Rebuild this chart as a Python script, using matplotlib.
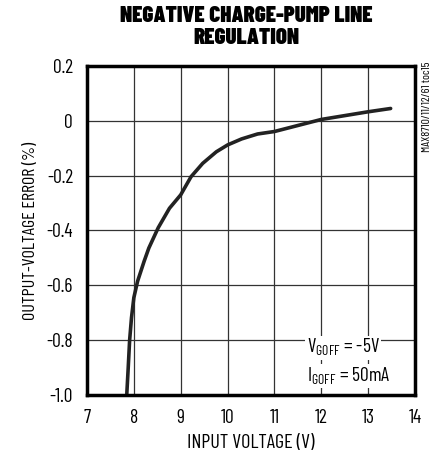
import matplotlib
matplotlib.use('Agg')
import matplotlib.pyplot as plt

# data
vin = [7.85, 7.88, 7.91, 7.95, 8.0, 8.08, 8.22, 8.32, 8.52, 8.76, 9.0, 9.22, 9.47, 9.76, 10.0, 10.3, 10.64, 11.0, 11.5, 12.0, 12.5, 13.0, 13.48]
err = [-0.995, -0.9, -0.8, -0.718, -0.645, -0.585, -0.512, -0.464, -0.39, -0.319, -0.27, -0.204, -0.155, -0.113, -0.088, -0.066, -0.048, -0.039, -0.017, 0.005, 0.019, 0.033, 0.045]

xticks = [7, 8, 9, 10, 11, 12, 13, 14]
yticks = [0.2, 0, -0.2, -0.4, -0.6, -0.8, -1.0]
ylabels = ['0.2', '0', '-0.2', '-0.4', '-0.6', '-0.8', '-1.0']

plt.rcParams['font.family'] = ['Barlow Condensed', 'DejaVu Sans']
plt.rcParams['mathtext.fontset'] = 'custom'
plt.rcParams['mathtext.rm'] = 'Barlow Condensed'

fig = plt.figure(figsize=(4.38, 4.58), dpi=100)
ax = fig.add_axes([0.1986, 0.1376, 0.7489, 0.7183])

ax.plot(vin, err, color='#222222', lw=2.6, solid_capstyle='round', solid_joinstyle='round')

ax.set_xlim(7, 14)
ax.set_ylim(-1.0, 0.2)
ax.set_xticks(xticks)
ax.set_yticks(yticks)
ax.set_yticklabels(ylabels)
ax.grid(True, color='#333333', lw=0.9)
ax.tick_params(length=0, labelsize=14, pad=10)
for s in ax.spines.values():
    s.set_linewidth(2.5)
    s.set_color('black')

ax.set_xlabel('INPUT VOLTAGE (V)', fontsize=14.5, labelpad=5)
ax.set_ylabel('OUTPUT-VOLTAGE ERROR (%)', fontsize=13, labelpad=6)
fig.text(0.563, 0.941, 'NEGATIVE CHARGE-PUMP LINE\nREGULATION', fontsize=16.5, fontweight=900,
         ha='center', va='center', linespacing=1.15)

ax.text(11.69, -0.847, r'V$_{\mathregular{GOFF}}$ = -5V', fontsize=14, ha='left', va='baseline',
        bbox=dict(facecolor='white', edgecolor='none', pad=1))
ax.text(11.69, -0.952, r'I$_{\mathregular{GOFF}}$ = 50mA', fontsize=14, ha='left', va='baseline',
        bbox=dict(facecolor='white', edgecolor='none', pad=1))

fig.text(0.975, 0.866, 'MAX8710/11/12/61 toc15', rotation=90, fontsize=8.5, ha='center', va='top')

fig.savefig('out.png', dpi=100)
